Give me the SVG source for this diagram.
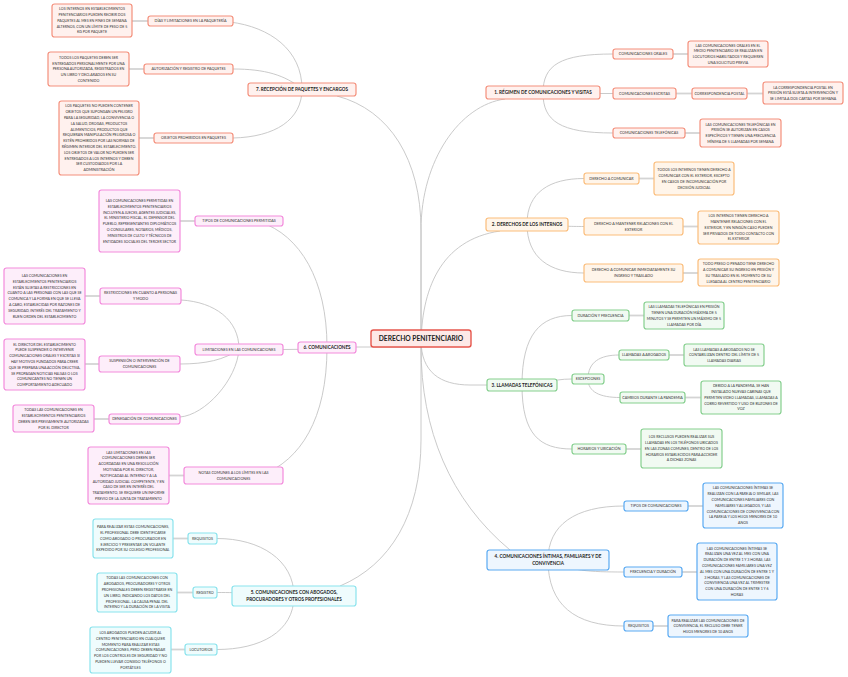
<svg xmlns="http://www.w3.org/2000/svg" width="848" height="677" viewBox="0 0 848 677">
<style>
text{font-family:Lato,"Open Sans","Liberation Sans",sans-serif;fill:#333;text-anchor:middle}
.d{font-size:3.6px}
.l{font-size:3.7px}
.m{font-size:4.6px;font-weight:bold;fill:#222}
.c{font-size:6.7px;font-weight:bold;fill:#222}
rect{rx:2.5px;ry:2.5px;stroke-width:1.2}
.cur path{fill:none;stroke:#c4c4c4;stroke-width:0.9}
.str path{fill:none;stroke:#d4d4d4;stroke-width:1.8}
.r rect{fill:#fff1ee;stroke:#f4907c}
.o rect{fill:#fff5ea;stroke:#fbbd7b}
.g rect{fill:#f1faf2;stroke:#85cf8e}
.b rect{fill:#eef6fe;stroke:#5aaaf2}
.cy rect{fill:#effcfd;stroke:#8ae3ed}
.p rect{fill:#fdeefa;stroke:#f38bdc}
.ctr rect{fill:#fde9e7;stroke:#e6574d;stroke-width:1.4}
</style>
<g id="connectors">
<g class="cur">
<path d="M421,347 L421,230 C421,160 460,105 505,99"/>
<path d="M421,347 L421,230 C421,160 390,110 337,96"/>
<path d="M421,347 C421,290 440,240 500,231"/>
<path d="M421,340 C421,372 440,385 470,385 L487,385"/>
<path d="M421,347 C421,430 450,500 510,550"/>
<path d="M421,347 L421,440 C421,515 390,565 340,586"/>
<path d="M421,347 L356,347"/>
<path d="M543,93 C543,65 560,54 613,54"/>
<path d="M543,93.5 L613,93.5"/>
<path d="M543,93 C543,121 560,133 613,133"/>
<path d="M527,224 C527,192 550,178.5 584,178.5"/>
<path d="M527,225 C560,226 570,226.5 584,226.5"/>
<path d="M527,224 C527,258 550,273 584,273"/>
<path d="M522,385 C522,335 540,315.5 572,315.5"/>
<path d="M522,385 C545,385 550,379 572,379"/>
<path d="M522,385 C522,435 540,449 572,449"/>
<path d="M588,379 C588,362 600,355 619,355"/>
<path d="M588,379 C588,392 600,397.5 620,397.5"/>
<path d="M548,560 C548,525 575,506 624,506"/>
<path d="M548,560 C570,571 590,572 624,572"/>
<path d="M548,560 C548,605 575,626 624,626"/>
<path d="M294,596 C294,560 260,538.5 217,538.5"/>
<path d="M294,596 C260,593 240,592.5 217,592.5"/>
<path d="M294,596 C294,632 260,649.5 217,649.5"/>
<path d="M327,347 C327,280 300,235 260,222"/>
<path d="M327,349 L283,349.5"/>
<path d="M327,347 C327,420 300,460 262,475"/>
<path d="M239,349 C239,320 215,302 181,300"/>
<path d="M239,349 C225,360 205,364 180,364"/>
<path d="M239,349 C237,380 205,415 180,417"/>
<path d="M302,89 C302,50 270,27 230,22"/>
<path d="M302,89 C285,75 265,69 233,69"/>
<path d="M302,89 C302,120 275,137 233,138"/>
</g>
<g class="str">
<path d="M673,54 L688,54"/>
<path d="M747,93.5 L763,93.5"/>
<path d="M676,93.5 L692,93.5"/>
<path d="M685,133 L700,133"/>
<path d="M639,178.5 L654,178.5"/>
<path d="M683,226.5 L698,226.5"/>
<path d="M683,273 L698,273"/>
<path d="M629,315.5 L644,315.5"/>
<path d="M669,355 L684,355"/>
<path d="M685,397.5 L701,397.5"/>
<path d="M626,449 L641,449"/>
<path d="M688,506 L703,506"/>
<path d="M682,572 L697,572"/>
<path d="M653,626 L668,626"/>
<path d="M188,538.5 L173,538.5"/>
<path d="M193,592.5 L177,592.5"/>
<path d="M185,649.5 L171,649.5"/>
<path d="M195,221 L180,221"/>
<path d="M100,296 L85,296"/>
<path d="M99,364 L85,364"/>
<path d="M109,419 L94,419"/>
<path d="M184,475.5 L169,475.5"/>
<path d="M148,21 L132,21"/>
<path d="M144,69 L129,69"/>
<path d="M154,138 L139,138"/>
</g>
</g>

<g id="center" class="ctr"><rect x="371" y="330" width="100" height="17"/><text class="c" x="421" y="341.3">DERECHO PENITENCIARIO</text></g>

<!-- Branch 1 -->
<g id="n1" class="r"><rect x="486" y="86" width="114" height="13"/><text class="m" x="543" y="94.2">1. RÉGIMEN DE COMUNICACIONES Y VISITAS</text></g>
<g id="n1a" class="r"><rect x="613" y="49" width="60" height="10"/><text class="l" x="643" y="55.3">COMUNICACIONES ORALES</text></g>
<g id="n1b" class="r"><rect x="613" y="88" width="63" height="11"/><text class="l" x="644.5" y="94.8">COMUNICACIONES ESCRITAS</text></g>
<g id="n1c" class="r"><rect x="613" y="128" width="72" height="10"/><text class="l" x="649" y="134.3">COMUNICACIONES TELEFÓNICAS</text></g>
<g id="n1a1" class="r"><rect x="688" y="41" width="80" height="26"/><text class="d" x="728" y="46.6">LAS COMUNICACIONES ORALES EN EL<tspan x="728" dy="5.8">MEDIO PENITENCIARIO SE REALIZAN EN</tspan><tspan x="728" dy="5.8">LOCUTORIOS HABILITADOS Y REQUIEREN</tspan><tspan x="728" dy="5.8">UNA SOLICITUD PREVIA</tspan></text></g>
<g id="n1b1" class="r"><rect x="692" y="88" width="55" height="11"/><text class="l" x="719.5" y="94.8">CORRESPONDENCIA POSTAL</text></g>
<g id="n1b2" class="r"><rect x="763" y="82" width="80" height="22"/><text class="d" x="803" y="88.5">LA CORRESPONDENCIA POSTAL EN<tspan x="803" dy="5.8">PRISIÓN ESTÁ SUJETA A INTERVENCIÓN Y</tspan><tspan x="803" dy="5.8">SE LIMITA A DOS CARTAS POR SEMANA</tspan></text></g>
<g id="n1c1" class="r"><rect x="700" y="119" width="81" height="28"/><text class="d" x="740.5" y="125.6">LAS COMUNICACIONES TELEFÓNICAS EN<tspan x="740.5" dy="5.8">PRISIÓN SE AUTORIZAN EN CASOS</tspan><tspan x="740.5" dy="5.8">ESPECÍFICOS Y TIENEN UNA FRECUENCIA</tspan><tspan x="740.5" dy="5.8">MÍNIMA DE 5 LLAMADAS POR SEMANA</tspan></text></g>

<!-- Branch 2 -->
<g id="n2" class="o"><rect x="486" y="218" width="82" height="13"/><text class="m" x="527" y="226.2">2. DERECHOS DE LOS INTERNOS</text></g>
<g id="n2a" class="o"><rect x="584" y="173" width="55" height="11"/><text class="l" x="611.5" y="179.8">DERECHO A COMUNICAR</text></g>
<g id="n2a1" class="o"><rect x="654" y="162" width="80" height="33"/><text class="d" x="694" y="171.1">TODOS LOS INTERNOS TIENEN DERECHO A<tspan x="694" dy="5.8">COMUNICAR CON EL EXTERIOR, EXCEPTO</tspan><tspan x="694" dy="5.8">EN CASOS DE INCOMUNICACIÓN POR</tspan><tspan x="694" dy="5.8">DECISIÓN JUDICIAL</tspan></text></g>
<g id="n2b" class="o"><rect x="584" y="218" width="99" height="17"/><text class="l" x="633.5" y="224.9">DERECHO A MANTENER RELACIONES CON EL<tspan x="633.5" dy="5.8">EXTERIOR</tspan></text></g>
<g id="n2b1" class="o"><rect x="698" y="211" width="81" height="33"/><text class="d" x="738.5" y="217.2">LOS INTERNOS TIENEN DERECHO A<tspan x="738.5" dy="5.8">MANTENER RELACIONES CON EL</tspan><tspan x="738.5" dy="5.8">EXTERIOR, Y EN NINGÚN CASO PUEDEN</tspan><tspan x="738.5" dy="5.8">SER PRIVADOS DE TODO CONTACTO CON</tspan><tspan x="738.5" dy="5.8">EL EXTERIOR</tspan></text></g>
<g id="n2c" class="o"><rect x="584" y="264" width="99" height="18"/><text class="l" x="633.5" y="271.4">DERECHO A COMUNICAR INMEDIATAMENTE SU<tspan x="633.5" dy="5.8">INGRESO Y TRASLADO</tspan></text></g>
<g id="n2c1" class="o"><rect x="698" y="259" width="81" height="27"/><text class="d" x="738.5" y="265.1">TODO PRESO O PENADO TIENE DERECHO<tspan x="738.5" dy="5.8">A COMUNICAR SU INGRESO EN PRISIÓN Y</tspan><tspan x="738.5" dy="5.8">SU TRASLADO EN EL MOMENTO DE SU</tspan><tspan x="738.5" dy="5.8">LLEGADA AL CENTRO PENITENCIARIO</tspan></text></g>

<!-- Branch 3 -->
<g id="n3" class="g"><rect x="487" y="379" width="70" height="12"/><text class="m" x="522" y="386.7">3. LLAMADAS TELEFÓNICAS</text></g>
<g id="n3a" class="g"><rect x="572" y="310" width="57" height="11"/><text class="l" x="600.5" y="316.8">DURACIÓN Y FRECUENCIA</text></g>
<g id="n3a1" class="g"><rect x="644" y="302" width="80" height="27"/><text class="d" x="684" y="308.1">LAS LLAMADAS TELEFÓNICAS EN PRISIÓN<tspan x="684" dy="5.8">TIENEN UNA DURACIÓN MÁXIMA DE 5</tspan><tspan x="684" dy="5.8">MINUTOS Y SE PERMITEN UN MÁXIMO DE 5</tspan><tspan x="684" dy="5.8">LLAMADAS POR DÍA</tspan></text></g>
<g id="n3b" class="g"><rect x="572" y="374" width="32" height="10"/><text class="l" x="588" y="380.3">EXCEPCIONES</text></g>
<g id="n3b1" class="g"><rect x="619" y="350" width="50" height="10"/><text class="l" x="644" y="356.3">LLAMADAS A ABOGADOS</text></g>
<g id="n3b1a" class="g"><rect x="684" y="344" width="80" height="22"/><text class="d" x="724" y="350.5">LAS LLAMADAS A ABOGADOS NO SE<tspan x="724" dy="5.8">CONTABILIZAN DENTRO DEL LÍMITE DE 5</tspan><tspan x="724" dy="5.8">LLAMADAS DIARIAS</tspan></text></g>
<g id="n3b2" class="g"><rect x="620" y="392" width="65" height="11"/><text class="l" x="652.5" y="398.8">CAMBIOS DURANTE LA PANDEMIA</text></g>
<g id="n3b2a" class="g"><rect x="701" y="381" width="80" height="33"/><text class="d" x="741" y="387.2">DEBIDO A LA PANDEMIA, SE HAN<tspan x="741" dy="5.8">INSTALADO NUEVAS CABINAS QUE</tspan><tspan x="741" dy="5.8">PERMITEN VIDEO LLAMADAS, LLAMADAS A</tspan><tspan x="741" dy="5.8">COBRO REVERTIDO Y USO DE BUZONES DE</tspan><tspan x="741" dy="5.8">VOZ</tspan></text></g>
<g id="n3c" class="g"><rect x="572" y="444" width="54" height="10"/><text class="l" x="599" y="450.3">HORARIOS Y UBICACIÓN</text></g>
<g id="n3c1" class="g"><rect x="641" y="429" width="81" height="39"/><text class="d" x="681.5" y="438.2">LOS RECLUSOS PUEDEN REALIZAR SUS<tspan x="681.5" dy="5.8">LLAMADAS EN LOS TELÉFONOS UBICADOS</tspan><tspan x="681.5" dy="5.8">EN LAS ZONAS COMUNES, DENTRO DE LOS</tspan><tspan x="681.5" dy="5.8">HORARIOS ESTABLECIDOS PARA ACCEDER</tspan><tspan x="681.5" dy="5.8">A DICHAS ZONAS</tspan></text></g>

<!-- Branch 4 -->
<g id="n4" class="b"><rect x="487" y="550" width="122" height="20"/><text class="m" x="548" y="558.1">4. COMUNICACIONES ÍNTIMAS, FAMILIARES Y DE<tspan x="548" dy="7">CONVIVENCIA</tspan></text></g>
<g id="n4a" class="b"><rect x="624" y="501" width="64" height="10"/><text class="l" x="656" y="507.3">TIPOS DE COMUNICACIONES</text></g>
<g id="n4a1" class="b"><rect x="703" y="483" width="80" height="45"/><text class="d" x="743" y="489.4">LAS COMUNICACIONES ÍNTIMAS SE<tspan x="743" dy="5.8">REALIZAN CON LA PAREJA O SIMILAR, LAS</tspan><tspan x="743" dy="5.8">COMUNICACIONES FAMILIARES CON</tspan><tspan x="743" dy="5.8">FAMILIARES Y ALLEGADOS, Y LAS</tspan><tspan x="743" dy="5.8">COMUNICACIONES DE CONVIVENCIA CON</tspan><tspan x="743" dy="5.8">LA PAREJA Y LOS HIJOS MENORES DE 10</tspan><tspan x="743" dy="5.8">AÑOS</tspan></text></g>
<g id="n4b" class="b"><rect x="624" y="567" width="58" height="10"/><text class="l" x="653" y="573.3">FRECUENCIA Y DURACIÓN</text></g>
<g id="n4b1" class="b"><rect x="697" y="543" width="80" height="57"/><text class="d" x="737" y="549.6">LAS COMUNICACIONES ÍNTIMAS SE<tspan x="737" dy="5.8">REALIZAN UNA VEZ AL MES CON UNA</tspan><tspan x="737" dy="5.8">DURACIÓN DE ENTRE 1 Y 3 HORAS, LAS</tspan><tspan x="737" dy="5.8">COMUNICACIONES FAMILIARES UNA VEZ</tspan><tspan x="737" dy="5.8">AL MES CON UNA DURACIÓN DE ENTRE 1 Y</tspan><tspan x="737" dy="5.8">3 HORAS, Y LAS COMUNICACIONES DE</tspan><tspan x="737" dy="5.8">CONVIVENCIA UNA VEZ AL TRIMESTRE</tspan><tspan x="737" dy="5.8">CON UNA DURACIÓN DE ENTRE 1 Y 6</tspan><tspan x="737" dy="5.8">HORAS</tspan></text></g>
<g id="n4c" class="b"><rect x="624" y="621" width="29" height="10"/><text class="l" x="638.5" y="627.3">REQUISITOS</text></g>
<g id="n4c1" class="b"><rect x="668" y="615" width="80" height="22"/><text class="d" x="708" y="621.5">PARA REALIZAR LAS COMUNICACIONES DE<tspan x="708" dy="5.8">CONVIVENCIA, EL RECLUSO DEBE TENER</tspan><tspan x="708" dy="5.8">HIJOS MENORES DE 10 AÑOS</tspan></text></g>

<!-- Branch 5 -->
<g id="n5" class="cy"><rect x="232" y="586" width="124" height="20"/><text class="m" x="294" y="594.1">5. COMUNICACIONES CON ABOGADOS,<tspan x="294" dy="7">PROCURADORES Y OTROS PROFESIONALES</tspan></text></g>
<g id="n5a" class="cy"><rect x="188" y="533" width="29" height="11"/><text class="l" x="202.5" y="539.8">REQUISITOS</text></g>
<g id="n5a1" class="cy"><rect x="93" y="519" width="80" height="39"/><text class="d" x="133" y="528.2">PARA REALIZAR ESTAS COMUNICACIONES,<tspan x="133" dy="5.8">EL PROFESIONAL DEBE IDENTIFICARSE</tspan><tspan x="133" dy="5.8">COMO ABOGADO O PROCURADOR EN</tspan><tspan x="133" dy="5.8">EJERCICIO Y PRESENTAR UN VOLANTE</tspan><tspan x="133" dy="5.8">EXPEDIDO POR SU COLEGIO PROFESIONAL</tspan></text></g>
<g id="n5b" class="cy"><rect x="193" y="587" width="24" height="11"/><text class="l" x="205" y="593.8">REGISTRO</text></g>
<g id="n5b1" class="cy"><rect x="97" y="573" width="80" height="39"/><text class="d" x="137" y="579.3">TODAS LAS COMUNICACIONES CON<tspan x="137" dy="5.8">ABOGADOS, PROCURADORES Y OTROS</tspan><tspan x="137" dy="5.8">PROFESIONALES DEBEN REGISTRARSE EN</tspan><tspan x="137" dy="5.8">UN LIBRO, INDICANDO LOS DATOS DEL</tspan><tspan x="137" dy="5.8">PROFESIONAL, LA CAUSA PENAL DEL</tspan><tspan x="137" dy="5.8">INTERNO Y LA DURACIÓN DE LA VISITA</tspan></text></g>
<g id="n5c" class="cy"><rect x="185" y="644" width="32" height="11"/><text class="l" x="201" y="650.8">LOCUTORIOS</text></g>
<g id="n5c1" class="cy"><rect x="90" y="627" width="81" height="46"/><text class="d" x="130.5" y="633.9">LOS ABOGADOS PUEDEN ACUDIR AL<tspan x="130.5" dy="5.8">CENTRO PENITENCIARIO EN CUALQUIER</tspan><tspan x="130.5" dy="5.8">MOMENTO PARA REALIZAR ESTAS</tspan><tspan x="130.5" dy="5.8">COMUNICACIONES, PERO DEBEN PAGAR</tspan><tspan x="130.5" dy="5.8">POR LOS CONTROLES DE SEGURIDAD Y NO</tspan><tspan x="130.5" dy="5.8">PUEDEN LLEVAR CONSIGO TELÉFONOS O</tspan><tspan x="130.5" dy="5.8">PORTÁTILES</tspan></text></g>

<!-- Branch 6 -->
<g id="n6" class="p"><rect x="298" y="342" width="58" height="11"/><text class="m" x="327" y="349.2">6. COMUNICACIONES</text></g>
<g id="n6a" class="p"><rect x="195" y="216" width="88" height="10"/><text class="l" x="239" y="222.3">TIPOS DE COMUNICACIONES PERMITIDAS</text></g>
<g id="n6a1" class="p"><rect x="99" y="190" width="81" height="62"/><text class="d" x="139.5" y="202">LAS COMUNICACIONES PERMITIDAS EN<tspan x="139.5" dy="5.8">ESTABLECIMIENTOS PENITENCIARIOS</tspan><tspan x="139.5" dy="5.8">INCLUYEN A JUECES, AGENTES JUDICIALES,</tspan><tspan x="139.5" dy="5.8">EL MINISTERIO FISCAL, EL DEFENSOR DEL</tspan><tspan x="139.5" dy="5.8">PUEBLO, REPRESENTANTES DIPLOMÁTICOS</tspan><tspan x="139.5" dy="5.8">O CONSULARES, NOTARIOS, MÉDICOS,</tspan><tspan x="139.5" dy="5.8">MINISTROS DE CULTO Y TÉCNICOS DE</tspan><tspan x="139.5" dy="5.8">ENTIDADES SOCIALES DEL TERCER SECTOR</tspan></text></g>
<g id="n6b" class="p"><rect x="195" y="344" width="88" height="11"/><text class="l" x="239" y="350.8">LIMITACIONES EN LAS COMUNICACIONES</text></g>
<g id="n6b1" class="p"><rect x="100" y="288" width="81" height="16"/><text class="l" x="140.5" y="294.4">RESTRICCIONES EN CUANTO A PERSONAS<tspan x="140.5" dy="5.8">Y MODO</tspan></text></g>
<g id="n6b1a" class="p"><rect x="4" y="268" width="81" height="56"/><text class="d" x="44.5" y="277">LAS COMUNICACIONES EN<tspan x="44.5" dy="5.8">ESTABLECIMIENTOS PENITENCIARIOS</tspan><tspan x="44.5" dy="5.8">ESTÁN SUJETAS A RESTRICCIONES EN</tspan><tspan x="44.5" dy="5.8">CUANTO A LAS PERSONAS CON LAS QUE SE</tspan><tspan x="44.5" dy="5.8">COMUNICA Y LA FORMA EN QUE SE LLEVA</tspan><tspan x="44.5" dy="5.8">A CABO, ESTABLECIDAS POR RAZONES DE</tspan><tspan x="44.5" dy="5.8">SEGURIDAD, INTERÉS DEL TRATAMIENTO Y</tspan><tspan x="44.5" dy="5.8">BUEN ORDEN DEL ESTABLECIMIENTO</tspan></text></g>
<g id="n6b2" class="p"><rect x="99" y="356" width="81" height="16"/><text class="l" x="139.5" y="362.4">SUSPENSIÓN O INTERVENCIÓN DE<tspan x="139.5" dy="5.8">COMUNICACIONES</tspan></text></g>
<g id="n6b2a" class="p"><rect x="4" y="339" width="81" height="51"/><text class="d" x="44.5" y="345.5">EL DIRECTOR DEL ESTABLECIMIENTO<tspan x="44.5" dy="5.8">PUEDE SUSPENDER O INTERVENIR</tspan><tspan x="44.5" dy="5.8">COMUNICACIONES ORALES Y ESCRITAS SI</tspan><tspan x="44.5" dy="5.8">HAY MOTIVOS FUNDADOS PARA CREER</tspan><tspan x="44.5" dy="5.8">QUE SE PREPARA UNA ACCIÓN DELICTIVA,</tspan><tspan x="44.5" dy="5.8">SE PROPAGAN NOTICIAS FALSAS O LOS</tspan><tspan x="44.5" dy="5.8">COMUNICANTES NO TIENEN UN</tspan><tspan x="44.5" dy="5.8">COMPORTAMIENTO ADECUADO</tspan></text></g>
<g id="n6b3" class="p"><rect x="109" y="414" width="71" height="10"/><text class="l" x="144.5" y="420.3">DENEGACIÓN DE COMUNICACIONES</text></g>
<g id="n6b3a" class="p"><rect x="13" y="405" width="81" height="27"/><text class="d" x="53.5" y="411.1">TODAS LAS COMUNICACIONES EN<tspan x="53.5" dy="5.8">ESTABLECIMIENTOS PENITENCIARIOS</tspan><tspan x="53.5" dy="5.8">DEBEN SER PREVIAMENTE AUTORIZADAS</tspan><tspan x="53.5" dy="5.8">POR EL DIRECTOR</tspan></text></g>
<g id="n6c" class="p"><rect x="184" y="467" width="99" height="17"/><text class="l" x="233.5" y="473.9">NOTAS COMUNES A LOS LÍMITES EN LAS<tspan x="233.5" dy="5.8">COMUNICACIONES</tspan></text></g>
<g id="n6c1" class="p"><rect x="88" y="447" width="81" height="57"/><text class="d" x="128.5" y="453.6">LAS LIMITACIONES EN LAS<tspan x="128.5" dy="5.8">COMUNICACIONES DEBEN SER</tspan><tspan x="128.5" dy="5.8">ACORDADAS EN UNA RESOLUCIÓN</tspan><tspan x="128.5" dy="5.8">MOTIVADA POR EL DIRECTOR,</tspan><tspan x="128.5" dy="5.8">NOTIFICADAS AL INTERNO Y A LA</tspan><tspan x="128.5" dy="5.8">AUTORIDAD JUDICIAL COMPETENTE, Y EN</tspan><tspan x="128.5" dy="5.8">CASO DE SER EN INTERÉS DEL</tspan><tspan x="128.5" dy="5.8">TRATAMIENTO, SE REQUIERE UN INFORME</tspan><tspan x="128.5" dy="5.8">PREVIO DE LA JUNTA DE TRATAMIENTO</tspan></text></g>

<!-- Branch 7 -->
<g id="n7" class="r"><rect x="248" y="83" width="108" height="13"/><text class="m" x="302" y="91.2">7. RECEPCIÓN DE PAQUETES Y ENCARGOS</text></g>
<g id="n7a" class="r"><rect x="148" y="16" width="85" height="10"/><text class="l" x="190.5" y="22.3">DÍAS Y LIMITACIONES EN LA PAQUETERÍA</text></g>
<g id="n7a1" class="r"><rect x="52" y="4" width="80" height="33"/><text class="d" x="92" y="10.2">LOS INTERNOS EN ESTABLECIMIENTOS<tspan x="92" dy="5.8">PENITENCIARIOS PUEDEN RECIBIR DOS</tspan><tspan x="92" dy="5.8">PAQUETES AL MES EN FINES DE SEMANA</tspan><tspan x="92" dy="5.8">ALTERNOS, CON UN LÍMITE DE PESO DE 5</tspan><tspan x="92" dy="5.8">KG POR PAQUETE</tspan></text></g>
<g id="n7b" class="r"><rect x="144" y="64" width="89" height="10"/><text class="l" x="188.5" y="70.3">AUTORIZACIÓN Y REGISTRO DE PAQUETES</text></g>
<g id="n7b1" class="r"><rect x="48" y="52" width="81" height="34"/><text class="d" x="88.5" y="58.7">TODOS LOS PAQUETES DEBEN SER<tspan x="88.5" dy="5.8">ENTREGADOS PERSONALMENTE POR UNA</tspan><tspan x="88.5" dy="5.8">PERSONA AUTORIZADA, REGISTRADOS EN</tspan><tspan x="88.5" dy="5.8">UN LIBRO Y DECLARADOS EN SU</tspan><tspan x="88.5" dy="5.8">CONTENIDO</tspan></text></g>
<g id="n7c" class="r"><rect x="154" y="133" width="79" height="10"/><text class="l" x="193.5" y="139.3">OBJETOS PROHIBIDOS EN PAQUETES</text></g>
<g id="n7c1" class="r"><rect x="59" y="101" width="80" height="74"/><text class="d" x="99" y="107.4">LOS PAQUETES NO PUEDEN CONTENER<tspan x="99" dy="5.8">OBJETOS QUE SUPONGAN UN PELIGRO</tspan><tspan x="99" dy="5.8">PARA LA SEGURIDAD, LA CONVIVENCIA O</tspan><tspan x="99" dy="5.8">LA SALUD, DROGAS, PRODUCTOS</tspan><tspan x="99" dy="5.8">ALIMENTICIOS, PRODUCTOS QUE</tspan><tspan x="99" dy="5.8">REQUIERAN MANIPULACIÓN PELIGROSA O</tspan><tspan x="99" dy="5.8">ESTÉN PROHIBIDOS POR LAS NORMAS DE</tspan><tspan x="99" dy="5.8">RÉGIMEN INTERIOR DEL ESTABLECIMIENTO.</tspan><tspan x="99" dy="5.8">LOS OBJETOS DE VALOR NO PUEDEN SER</tspan><tspan x="99" dy="5.8">ENTREGADOS A LOS INTERNOS Y DEBEN</tspan><tspan x="99" dy="5.8">SER CUSTODIADOS POR LA</tspan><tspan x="99" dy="5.8">ADMINISTRACIÓN</tspan></text></g>
</svg>
